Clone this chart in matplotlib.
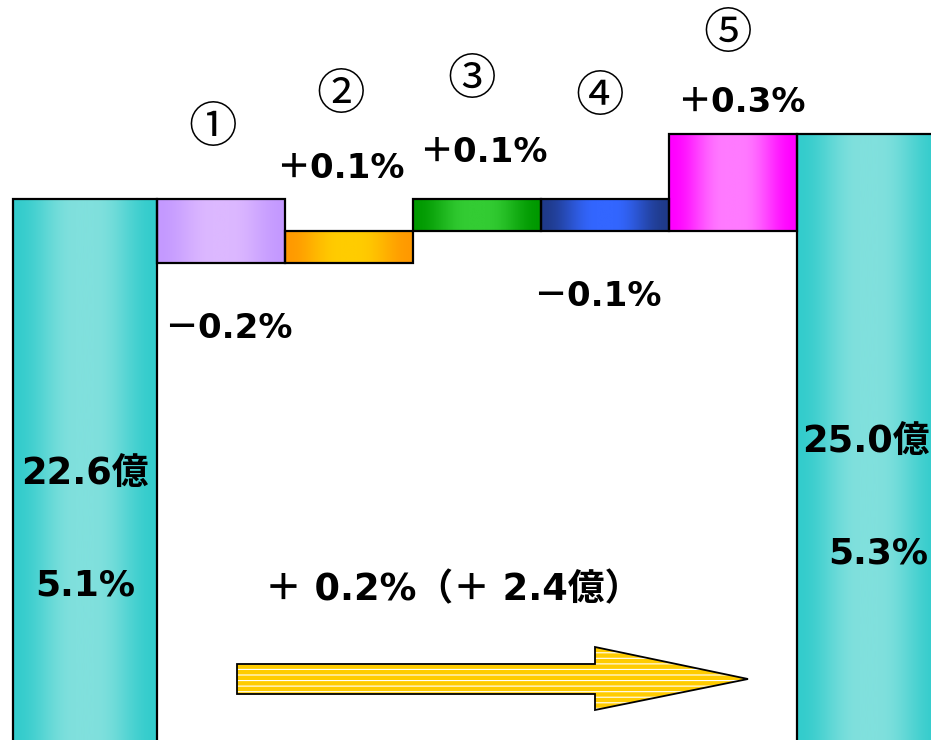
import matplotlib.pyplot as plt
import numpy as np
from matplotlib.colors import to_rgb
from matplotlib.patches import Polygon

# data
start_val = 5.1
end_val = 5.3
start_amt = '22.6億'
end_amt = '25.0億'
steps = ['①', '②', '③', '④', '⑤']
deltas = [-0.2, 0.1, 0.1, -0.1, 0.3]
total_pct = 0.2
total_amt = 2.4

step_colors = [('#c499ff', '#dcb8ff'), ('#ff9900', '#ffcc00'), ('#009900', '#33cc33'),
               ('#1f3a8a', '#3366ff'), ('#ff00ff', '#ff7aff')]
end_colors = ('#33cccc', '#80e0dd')

W, H = 931, 740
fig = plt.figure(figsize=(W / 100, H / 100), dpi=100)
ax = fig.add_axes([0, 0, 1, 1])
ax.axis('off')

BIG = ['DejaVu Sans', 'Noto Sans CJK JP']


def grad_fill(patch, c_edge, c_mid):
    e = np.array(to_rgb(c_edge))
    m = np.array(to_rgb(c_mid))
    t = np.linspace(0, 1, 200)
    f = np.clip((1 - np.abs(2 * t - 1)) * 1.15, 0, 1)
    f = 0.5 - 0.5 * np.cos(np.pi * f)
    img = e[None, :] * (1 - f[:, None]) + m[None, :] * f[:, None]
    x0, y0 = patch.get_x(), patch.get_y()
    w, h = patch.get_width(), patch.get_height()
    im = ax.imshow(img[None, :, :], extent=(x0, x0 + w, y0, y0 + h),
                   aspect='auto', interpolation='bilinear', zorder=1)
    im.set_clip_path(patch)


# waterfall bars
level = start_val
bottoms, heights = [], []
for d in deltas:
    bottoms.append(min(level, level + d))
    heights.append(abs(d))
    level += d

xs = np.arange(1, len(steps) + 1)
bars = ax.bar(xs, heights, bottom=bottoms, width=1.0, facecolor='none',
              edgecolor='black', linewidth=1.6, zorder=2)
for b, (ce, cm) in zip(bars, step_colors):
    grad_fill(b, ce, cm)

TW = 1.125
ends = ax.bar([0.5 - TW, len(steps) + 0.5], [start_val, end_val], width=TW,
              align='edge', facecolor='none', edgecolor='black', linewidth=1.6, zorder=2)
for b in ends:
    grad_fill(b, *end_colors)

ax.set_xlim(-93 / 128, (W - 93) / 128)
ax.set_ylim(5.0 - (H - 231) / 322, 5.0 + 231 / 322)


def px(x, y):
    return x / W, 1 - y / H


# step numbers
num_pos = [(213, 128), (341, 95), (472, 80), (600, 97), (728, 34)]
for s, (x, y) in zip(steps, num_pos):
    ax.text(*px(x, y), s, transform=ax.transAxes, ha='center', va='center',
            fontsize=35, family='Noto Sans CJK JP')

# change labels
lab_pos = [(228, 328), (340, 168), (483, 152), (597, 296), (741, 103)]
for d, (x, y) in zip(deltas, lab_pos):
    sign = '＋' if d > 0 else '－'
    ax.text(*px(x, y), f'{sign}{abs(d):.1f}%', transform=ax.transAxes,
            ha='center', va='center', fontsize=24.5, fontweight='bold', family=BIG)

# terminal labels
ax.text(*px(85, 474), start_amt, transform=ax.transAxes, ha='center', va='center',
        fontsize=26.5, fontweight='bold', family=BIG)
ax.text(*px(85, 585), f'{start_val:.1f}%', transform=ax.transAxes, ha='center',
        va='center', fontsize=26, fontweight='bold', family=BIG)
ax.text(*px(866, 442), end_amt, transform=ax.transAxes, ha='center', va='center',
        fontsize=26.5, fontweight='bold', family=BIG)
ax.text(*px(878, 553), f'{end_val:.1f}%', transform=ax.transAxes, ha='center',
        va='center', fontsize=26, fontweight='bold', family=BIG)

ax.text(*px(453, 590), f'＋ {total_pct:.1f}%（＋ {total_amt:.1f}億）',
        transform=ax.transAxes, ha='center', va='center', fontsize=26.5,
        fontweight='bold', family=BIG)

# arrow
plt.rcParams['hatch.linewidth'] = 0.8
arrow_px = [(237, 664), (595, 664), (595, 647), (748, 679), (595, 710), (595, 694), (237, 694)]
pts = [px(x, y) for x, y in arrow_px]
ax.add_patch(Polygon(pts, closed=True, transform=ax.transAxes, facecolor='#ffcc00',
                     edgecolor='white', hatch='---', linewidth=0, zorder=3))
ax.add_patch(Polygon(pts, closed=True, transform=ax.transAxes, facecolor='none',
                     edgecolor='black', linewidth=1.3, zorder=4))

fig.savefig('out.png', dpi=100)
